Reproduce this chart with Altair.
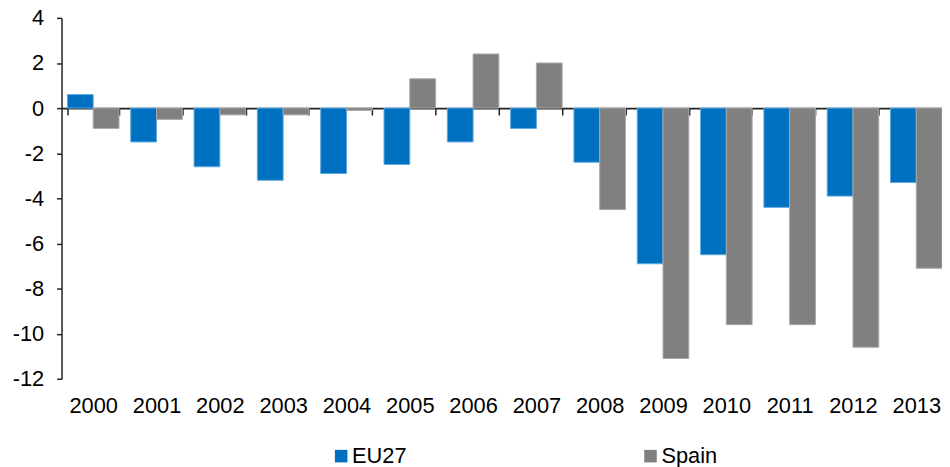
import altair as alt
import pandas as pd

years = [str(y) for y in range(2000, 2014)]
eu27 = [0.6, -1.5, -2.6, -3.2, -2.9, -2.5, -1.5, -0.9, -2.4, -6.9, -6.5, -4.4, -3.9, -3.3]
spain = [-0.9, -0.5, -0.3, -0.3, -0.1, 1.3, 2.4, 2.0, -4.5, -11.1, -9.6, -9.6, -10.6, -7.1]
series = ["EU27", "Spain"]
colors = ["#0070C0", "#808080"]
strokes = ["#5DA9E0", "#A8A8A8"]
y_ticks = list(range(-12, 5, 2))

df = pd.DataFrame({
    "year": years * 2,
    "series": [series[0]] * len(years) + [series[1]] * len(years),
    "value": eu27 + spain,
})

FONT = "Liberation Sans"

chart = alt.Chart(df).mark_bar(strokeWidth=1).encode(
    x=alt.X(
        "year:N", sort=years,
        scale=alt.Scale(paddingInner=0.186, paddingOuter=0.093, range=[0, 894]),
        axis=alt.Axis(
            title=None, orient="bottom", offset=-273,
            domainColor="#222222", domainWidth=1.6,
            tickColor="#222222", tickSize=7, tickWidth=1.5, tickBand="extent",
            labelAngle=0, labelFontSize=22, labelFont=FONT, labelColor="black",
            labelPadding=283, labelBaseline="top",
        ),
    ),
    xOffset=alt.XOffset("series:N", sort=series, scale=alt.Scale(paddingInner=0, paddingOuter=0)),
    y=alt.Y(
        "value:Q",
        scale=alt.Scale(domain=[-12, 4], nice=False),
        axis=alt.Axis(
            title=None, values=y_ticks, grid=False,
            domainColor="#222222", domainWidth=1.5,
            tickColor="#222222", tickSize=5, tickWidth=1.5,
            labelFontSize=22, labelFont=FONT, labelColor="black", labelPadding=13,
            labelExpr="datum.value + ''",
        ),
    ),
    color=alt.Color(
        "series:N",
        scale=alt.Scale(domain=series, range=colors),
        legend=alt.Legend(
            orient="none", legendX=271, legendY=431, direction="horizontal",
            title=None, symbolType="square", symbolSize=160, symbolStrokeWidth=0,
            labelFontSize=22, labelFont=FONT, labelColor="black",
            columnPadding=234, labelOffset=0, symbolOffset=0,
        ),
    ),
    stroke=alt.Stroke("series:N", scale=alt.Scale(domain=series, range=strokes), legend=None),
).properties(
    width=888, height=364,
    autosize=alt.AutoSizeParams(type="none"),
    padding={"left": 54, "top": 8, "right": 0, "bottom": 87},
).configure_view(stroke=None)

chart.save("out.html", embed_options={"renderer": "svg", "actions": False})
